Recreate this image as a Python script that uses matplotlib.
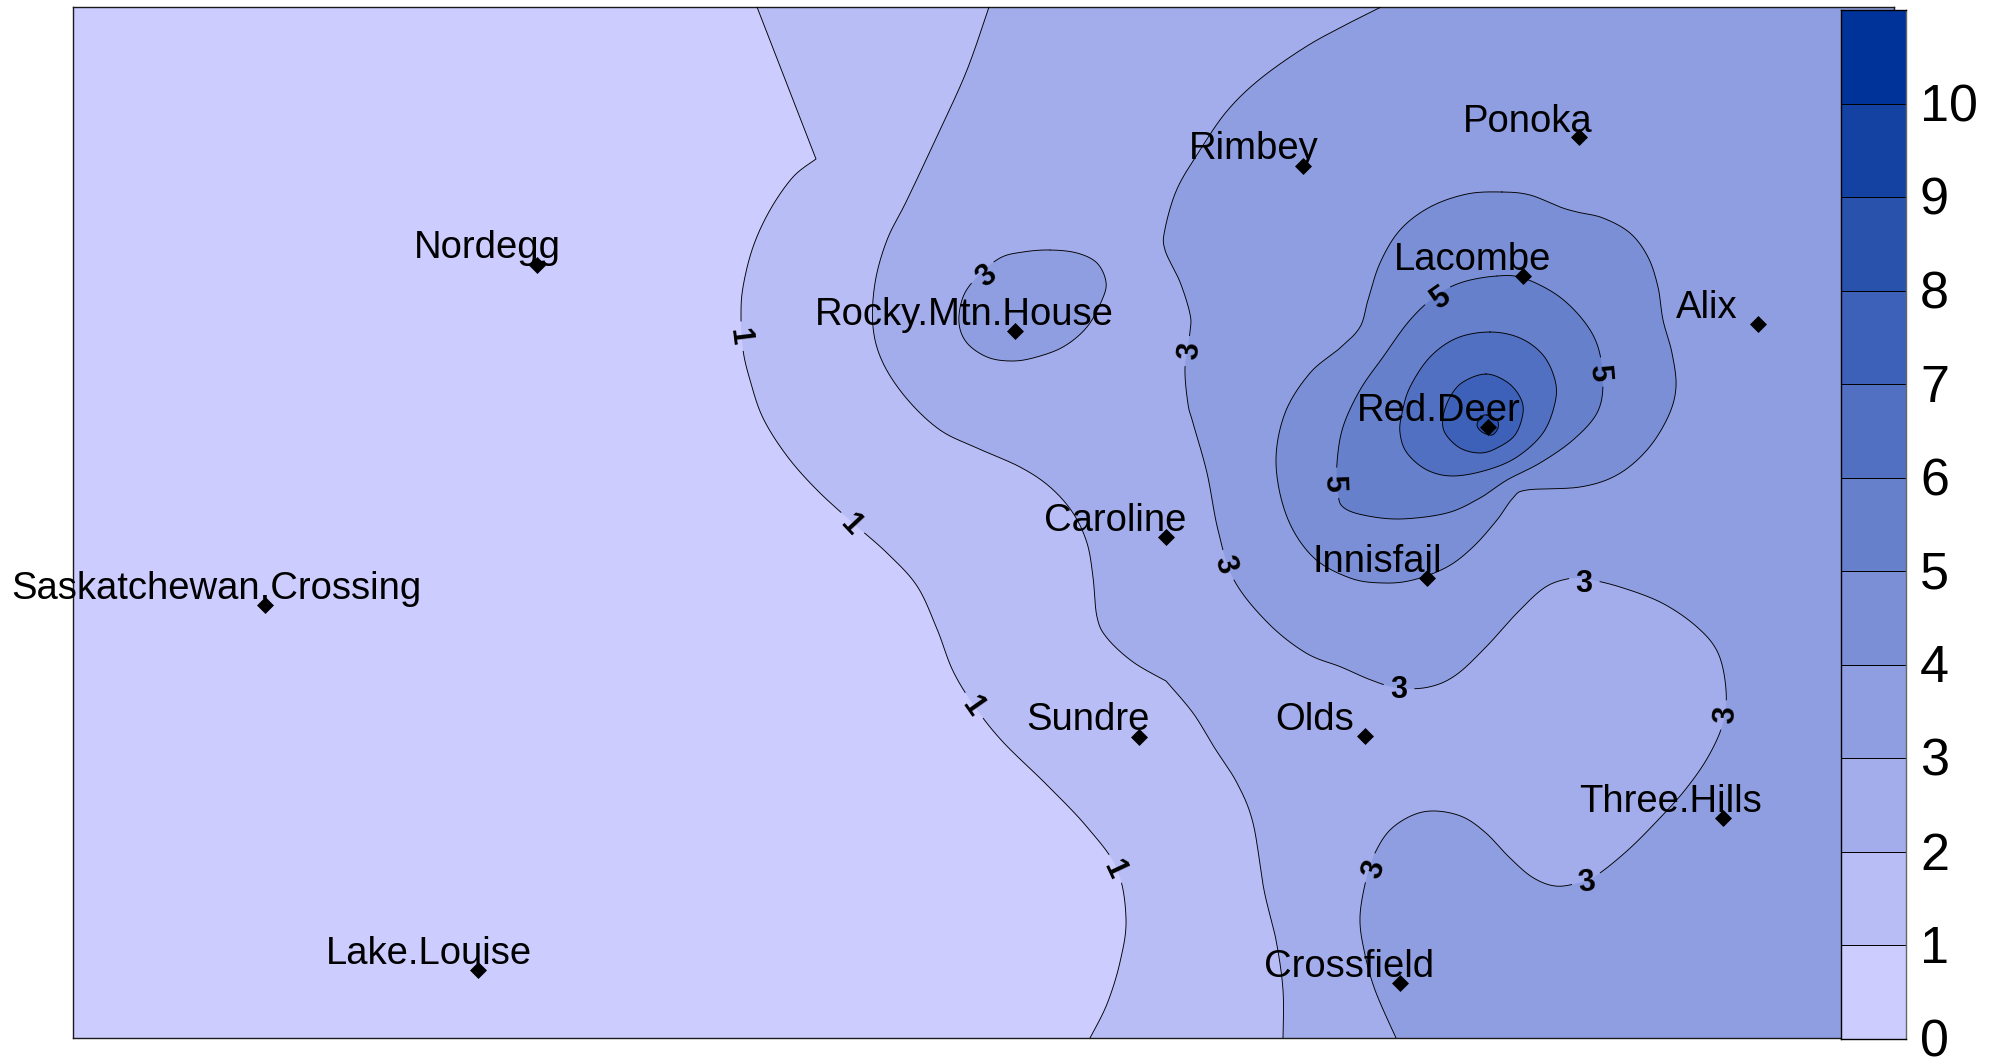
import numpy as np
import matplotlib
matplotlib.use("Agg")
import matplotlib.pyplot as plt
from matplotlib.path import Path
from matplotlib.patches import PathPatch
from matplotlib.colors import ListedColormap

plt.rcParams['font.family'] = ['Liberation Sans', 'DejaVu Sans']

# Map extent (easting / southing on the map grid of the plot)
x_range = (73, 1894)
y_range = (1038, 7)

levels = [0, 1, 2, 3, 4, 5, 6, 7, 8, 9, 10, 11]
level_colors = ['#CCCCFF', '#B8BDF5', '#A3ADEB', '#8F9EE0', '#7A8FD6', '#6680CC',
                '#5270C2', '#3D61B8', '#2952AD', '#1442A3', '#003399']

stations = ['Nordegg', 'Ponoka', 'Rimbey', 'Lacombe', 'Alix', 'Rocky.Mtn.House', 'Red.Deer',
            'Caroline', 'Innisfail', 'Saskatchewan.Crossing', 'Olds', 'Sundre', 'Three.Hills',
            'Lake.Louise', 'Crossfield']
station_x = [537, 1579, 1303, 1523, 1758, 1015, 1488, 1166, 1427, 265, 1365, 1139, 1723, 478, 1400]
station_y = [265, 137, 166, 276, 324, 331, 427, 537, 578, 605, 736, 737, 818, 970, 983]
label_x = [487, 1528, 1254, 1473, 1707, 964, 1439, 1115, 1377, 216, 1315, 1088, 1671, 429, 1349]
label_y = [248, 122, 149, 260, 308, 315, 411, 521, 562, 589, 720, 720, 802, 954, 967]

contour_1 = [(757, 7), (816, 159), (816, 159), (793, 177), (770, 210), (753, 247), (743, 287), (741, 317),
             (743, 350), (750, 380), (763, 418), (787, 456), (817, 490), (853, 523), (887, 553), (917, 586),
             (937, 629), (953, 671), (975, 707), (1003, 742), (1047, 785), (1087, 827), (1117, 869),
             (1126, 919), (1120, 962), (1107, 1004), (1090, 1038)]
contour_2 = [(989, 7), (967, 70), (940, 130), (907, 200), (887, 240), (875, 283), (873, 327), (883, 363),
             (907, 399), (940, 430), (977, 448), (1020, 467), (1050, 487), (1073, 513), (1087, 543),
             (1093, 577), (1097, 617), (1107, 638), (1133, 662), (1166, 681), (1166, 681), (1193, 713),
             (1214, 747), (1237, 783), (1253, 823), (1264, 890), (1276, 940), (1283, 990), (1283, 1038)]
contour_3 = [(1381, 7), (1353, 21), (1307, 46), (1260, 79), (1227, 111), (1200, 150), (1177, 189), (1165, 229),
             (1165, 250), (1180, 282), (1190, 314), (1190, 332), (1185, 368), (1188, 404), (1193, 423),
             (1207, 473), (1218, 530), (1234, 580), (1268, 623), (1306, 653), (1341, 667), (1371, 680),
             (1398, 688), (1429, 687), (1456, 675), (1486, 647), (1517, 613), (1544, 588), (1567, 579),
             (1586, 579), (1620, 587), (1662, 603), (1697, 627), (1718, 653), (1726, 690), (1723, 723),
             (1708, 757), (1685, 790), (1658, 820), (1628, 850), (1597, 875), (1578, 883), (1555, 886),
             (1532, 877), (1509, 857), (1486, 833), (1463, 817), (1436, 811), (1413, 815), (1390, 830),
             (1375, 853), (1366, 880), (1360, 917), (1364, 950), (1375, 990), (1396, 1038)]
contour_3_loop = [(1050, 250), (1077, 253), (1097, 263), (1106, 282), (1102, 300), (1087, 327), (1063, 347),
                  (1033, 358), (1010, 361), (987, 357), (967, 343), (959, 323), (963, 297), (977, 277),
                  (1000, 258), (1023, 252)]
contour_4 = [(1502, 192), (1530, 195), (1560, 207), (1577, 212), (1603, 218), (1630, 233), (1648, 257),
             (1658, 287), (1663, 320), (1672, 353), (1676, 387), (1668, 417), (1647, 450), (1617, 475),
             (1580, 487), (1527, 490), (1513, 498), (1497, 520), (1473, 547), (1447, 567), (1413, 580),
             (1383, 583), (1350, 578), (1313, 557), (1287, 517), (1276, 463), (1285, 413), (1310, 373),
             (1340, 348), (1360, 327), (1368, 300), (1380, 263), (1400, 230), (1430, 207), (1467, 194)]
contour_5 = [(1497, 276), (1523, 278), (1557, 295), (1583, 320), (1598, 347), (1603, 383), (1597, 413),
             (1573, 440), (1540, 463), (1507, 480), (1480, 498), (1447, 513), (1400, 519), (1363, 515),
             (1343, 507), (1338, 493), (1337, 463), (1343, 427), (1360, 390), (1383, 357), (1410, 320),
             (1437, 295), (1463, 282)]
contour_6 = [(1490, 332), (1520, 338), (1543, 355), (1555, 380), (1555, 403), (1543, 433), (1517, 457),
             (1487, 470), (1453, 476), (1427, 470), (1407, 453), (1400, 433), (1402, 413), (1410, 387),
             (1430, 357), (1457, 338)]
contour_7 = [(1486, 374), (1507, 382), (1520, 397), (1523, 413), (1515, 435), (1497, 448), (1480, 453),
             (1460, 448), (1445, 433), (1443, 417), (1450, 397), (1463, 382)]
contour_8 = [(1487, 415), (1497, 420), (1498, 428), (1492, 435), (1482, 432), (1477, 425), (1481, 417)]

contour_labels = ['1', '1', '1', '1', '3', '3', '3', '3', '3', '3', '3', '3', '5', '5', '5']
contour_label_x = [743, 853, 975, 1117, 984, 1187, 1228, 1399, 1584, 1723, 1586, 1371, 1438, 1602, 1337]
contour_label_y = [336, 522, 704, 868, 274, 351, 564, 687, 581, 715, 879, 868, 296, 372, 483]
contour_label_rot = [-83, -47, -55, -65, 40, 85, -72, 0, 0, 85, 8, 72, 35, -85, -88]

GAP = 15


def smooth(points, closed=False):
    """Round the traced contour with Catmull-Rom Bezier arcs, flattened finely."""
    p = np.asarray(points, float)
    n = len(p)
    out = [p[:1]]
    t = np.linspace(0, 1, 25)[1:, None]
    for i in range(n if closed else n - 1):
        if closed:
            p0, p1, p2, p3 = p[(i - 1) % n], p[i], p[(i + 1) % n], p[(i + 2) % n]
        else:
            p0, p1, p2, p3 = p[max(i - 1, 0)], p[i], p[i + 1], p[min(i + 2, n - 1)]
        if np.all(p1 == p2):
            continue
        c1, c2 = p1 + (p2 - p0) / 6, p2 - (p3 - p1) / 6
        out.append((1 - t) ** 3 * p1 + 3 * (1 - t) ** 2 * t * c1 + 3 * (1 - t) * t ** 2 * c2 + t ** 3 * p2)
    return np.vstack(out)


def broken_runs(pts):
    """Leave the contour line open around the contour labels."""
    centers = np.column_stack([contour_label_x, contour_label_y])
    dist = np.hypot(pts[:, None, 0] - centers[None, :, 0], pts[:, None, 1] - centers[None, :, 1]).min(axis=1)
    keep = dist > GAP
    runs, start = [], None
    for i, k in enumerate(keep):
        if k and start is None:
            start = i
        if not k and start is not None:
            runs.append(pts[start:i])
            start = None
    if start is not None:
        runs.append(pts[start:])
    return runs


def add_band(ax, points, color, closed=False):
    line = smooth(points, closed)
    if closed:
        fill = line
    else:
        corners = np.array([(x_range[1], y_range[0]), (x_range[1], y_range[1])], float)
        fill = np.vstack([line, corners])
    ax.fill(fill[:, 0], fill[:, 1], facecolor=color, edgecolor='none', lw=0, zorder=2)
    for run in broken_runs(line):
        ax.plot(run[:, 0], run[:, 1], color='black', lw=0.65, zorder=3, solid_joinstyle='round')


fig = plt.figure(figsize=(19.90, 10.58), dpi=100, facecolor='white')
ax = fig.add_axes([73 / 1990, 1 - 1038 / 1058, (1894 - 73) / 1990, (1038 - 7) / 1058])
ax.set_facecolor(level_colors[0])

add_band(ax, contour_1, level_colors[1])
add_band(ax, contour_2, level_colors[2])
add_band(ax, contour_3, level_colors[3])
add_band(ax, contour_3_loop, level_colors[3], closed=True)
add_band(ax, contour_4, level_colors[4], closed=True)
add_band(ax, contour_5, level_colors[5], closed=True)
add_band(ax, contour_6, level_colors[6], closed=True)
add_band(ax, contour_7, level_colors[7], closed=True)
add_band(ax, contour_8, level_colors[8], closed=True)

ax.set_xlim(*x_range)
ax.set_ylim(*y_range)
ax.set_xticks([])
ax.set_yticks([])
for s in ax.spines.values():
    s.set_linewidth(1.0)
    s.set_color('#1a1a1a')

for t, x, y, r in zip(contour_labels, contour_label_x, contour_label_y, contour_label_rot):
    ax.text(x, y, t, fontsize=22, fontweight='bold', rotation=r, ha='center', va='center_baseline',
            rotation_mode='anchor', zorder=5)

ax.scatter(station_x, station_y, marker='D', s=75, color='black', linewidths=0, zorder=6)
for name, x, y in zip(stations, label_x, label_y):
    ax.text(x, y, name, fontsize=27.5, ha='center', va='center', color='black', zorder=7)

cax = fig.add_axes([1841 / 1990, 1 - 1039 / 1058, (1906 - 1841) / 1990, (1039 - 10) / 1058], zorder=5)
cax.pcolormesh([0, 1], levels, np.arange(11).reshape(-1, 1), cmap=ListedColormap(level_colors),
               edgecolors='black', linewidth=0.7, vmin=-0.5, vmax=10.5)
cax.set_xlim(0, 1)
cax.set_ylim(0, 11)
cax.set_xticks([])
cax.set_yticks([])
for v in levels[:-1]:
    cax.annotate(str(v), (1, v), xycoords=('axes fraction', 'data'), xytext=(10, 1), textcoords='offset points',
                 ha='left', va='center_baseline', fontsize=37.5, annotation_clip=False)
for side, s in cax.spines.items():
    s.set_linewidth(1.0)
    s.set_color('#666666' if side == 'right' else 'black')

fig.savefig('out.png', dpi=100)
